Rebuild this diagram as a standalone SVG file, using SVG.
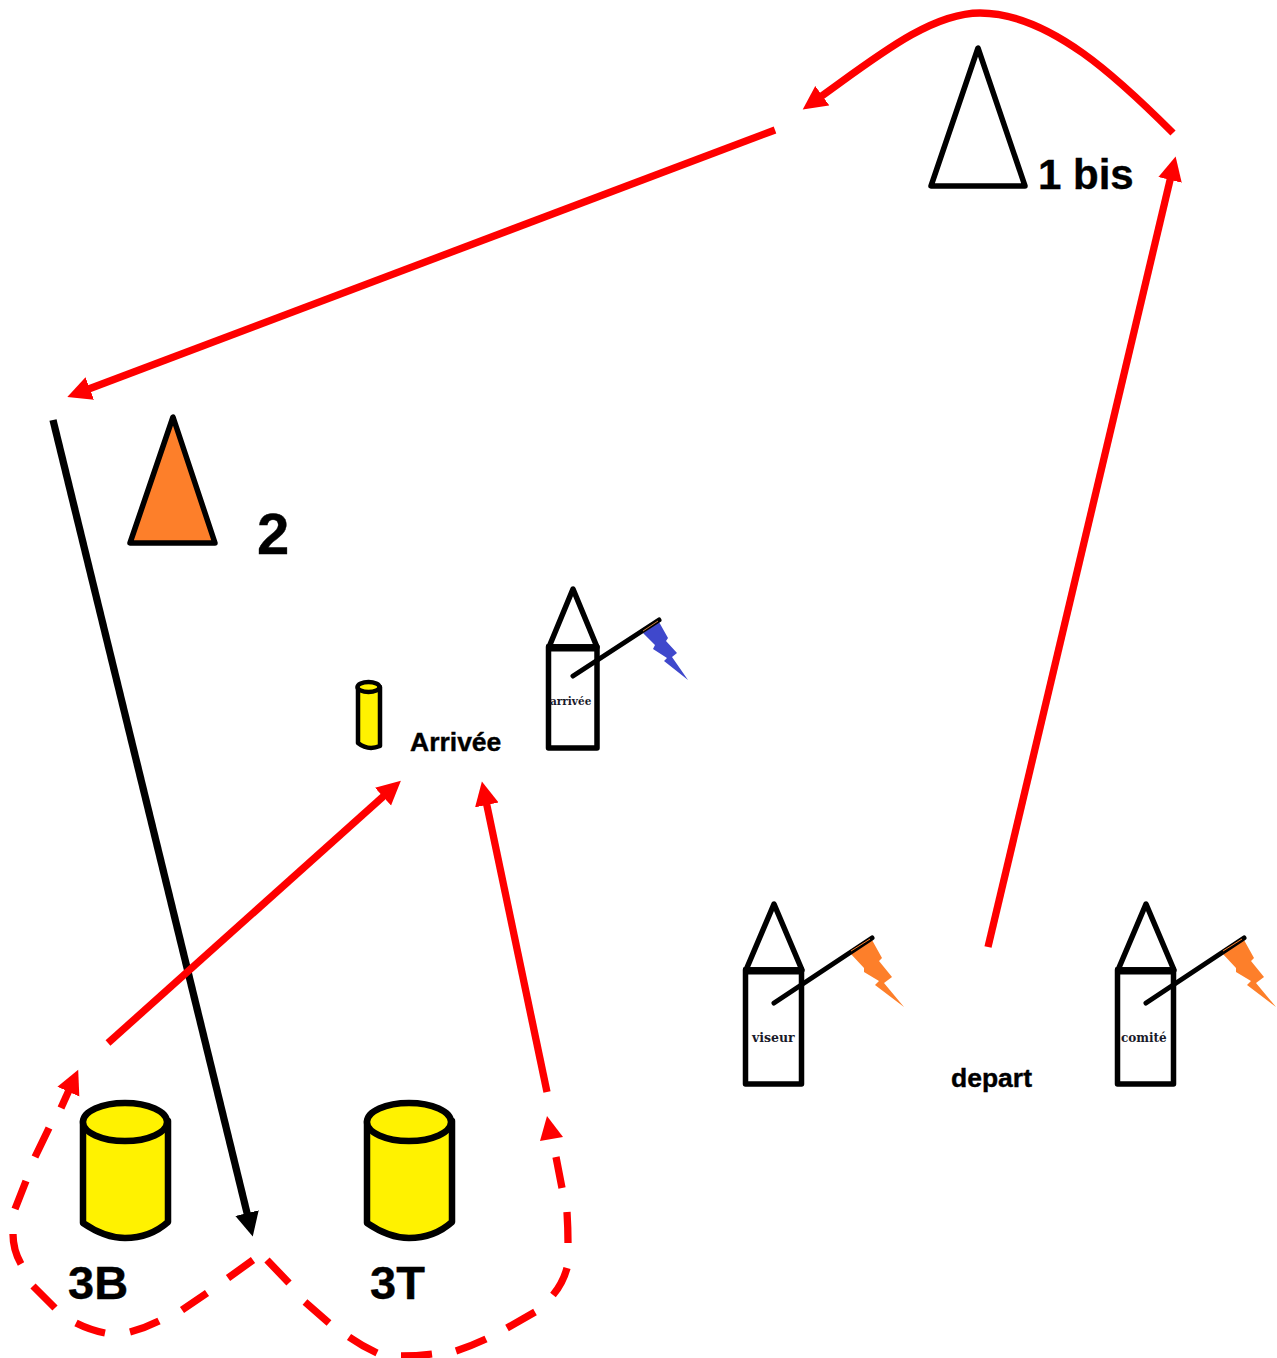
<svg xmlns="http://www.w3.org/2000/svg" width="1277" height="1358" viewBox="0 0 1277 1358">
<style>
.bg{fill:#fff}
.red{fill:none;stroke:#fe0000;stroke-width:7.300}
.blk{fill:none;stroke:#000;stroke-width:7.300}
.head{fill:#fe0000}
.cone{stroke:#000;stroke-width:5.500;stroke-linejoin:round}
.tw{fill:#fff;stroke:#000;stroke-width:5.500;stroke-linejoin:round}
.top{fill:none;stroke:#000;stroke-width:7}
.pole{fill:none;stroke:#000;stroke-width:5;stroke-linecap:round}
.cyl{fill:#fff200;stroke:#000;stroke-width:6.500;stroke-linejoin:round}
.cyls{fill:#fff200;stroke:#000;stroke-width:4.500;stroke-linejoin:round}
.big{font-family:"Liberation Sans",Arial,sans-serif;font-weight:700;fill:#000;stroke:#000;stroke-width:.4}
.small{font-family:"DejaVu Serif",serif;font-weight:700;fill:#1a1a2a}
.hl{fill:none;stroke-width:1}
</style>
<defs>
<marker id="ar" markerUnits="userSpaceOnUse" markerWidth="26" markerHeight="26" refX="4" refY="13" orient="auto" viewBox="0 0 26 26"><path d="M0,1 L24,13 L0,25 Z" fill="#fe0000"/></marker>
<marker id="ab" markerUnits="userSpaceOnUse" markerWidth="26" markerHeight="26" refX="4" refY="13" orient="auto" viewBox="0 0 26 26"><path d="M0,1 L24,13 L0,25 Z" fill="#000"/></marker>
</defs>
<rect class="bg" width="1277" height="1358"/>
<g id="connectors">
<path class="red" marker-end="url(#ar)" d="M1173,133 C1120,80 1050,13 980,13 C930,13 875,58 819,98"/>
<path class="red" marker-end="url(#ar)" d="M775,130 L86,390"/>
<path class="blk" marker-end="url(#ab)" d="M53,420 L248,1217"/>
<path class="red" marker-end="url(#ar)" d="M108,1043 L386,794"/>
<path class="red" marker-end="url(#ar)" d="M547,1092 L486,801"/>
<path class="red" marker-end="url(#ar)" d="M988,947 L1171,176"/>
<path class="red" d="M253,1260 L228,1278 M207,1293 L182,1310 M159,1321 Q145,1328 130,1332 M105,1333 Q90,1330 76,1323 M55,1308 L33,1286 M21,1264 Q13,1250 13,1234 M15,1209 L26,1181 M35,1157 L49,1128"/>
<path class="red" marker-end="url(#ar)" d="M61,1108 L70,1088"/>
<path class="red" d="M267,1260 L289,1283 M305,1302 L329,1323 M349,1337 Q362,1346 377,1353 M401,1356 Q416,1356 432,1354 M456,1351 Q471,1346 486,1339 M507,1328 L535,1312 M553,1295 Q563,1283 567,1268 M568,1243 Q568,1228 567,1212 M562,1188 L556,1157"/>
<polygon class="head" points="547,1116 540,1141 563,1137"/>
</g>
<g id="cone-1bis">
<polygon class="cone" fill="#fff" points="978,48 931,186 1025,186"/>
<text class="big" x="1038" y="189" font-size="42">1 bis</text>
</g>
<g id="cone-2">
<polygon class="cone" fill="#fd7f2a" points="173,417 130,543 215,543"/>
<text class="big" x="257" y="554" font-size="58">2</text>
</g>
<g id="buoy-arrivee">
<path class="cyls" d="M358,687 V743 Q368,751 380,746 V687 Z"/>
<ellipse class="cyls" cx="368.500" cy="687" rx="11" ry="5"/>
<text class="big" x="410" y="751" font-size="26.500">Arrivée</text>
</g>
<g id="tower-arrivee">
<polygon class="tw" points="573,589 549,647 597,647"/>
<rect class="tw" x="548.500" y="647" width="48.500" height="101"/>
<path class="top" d="M546,648 H599"/>
<polygon fill="#3f48cc" points="643,633 659,622 668,638 666,641 677,653 672,657 688,680 664,661 667,658 653,649 655,645"/>
<path class="pole" d="M573,676 L659,620"/>
<path class="hl" stroke="#d08040" d="M643,631 L658,621"/>
<text class="small" x="550" y="705" font-size="10.500">arrivée</text>
</g>
<g id="tower-viseur">
<polygon class="tw" points="774,904 746,970 802,970"/>
<rect class="tw" x="745.500" y="970" width="56" height="114"/>
<path class="top" d="M743,971 H804"/>
<polygon fill="#fd7f2a" points="850,953 872,940 882,958 879,961 892,977 884,983 904,1007 875,985 879,981 864,972 864,968"/>
<path class="pole" d="M774,1003 L872,938"/>
<path class="hl" stroke="#fd7f2a" d="M851,951 L870,939"/>
<text class="small" x="752" y="1042" font-size="12.500">viseur</text>
</g>
<g id="tower-comite">
<polygon class="tw" points="1146,904 1118,970 1174,970"/>
<rect class="tw" x="1117.500" y="970" width="56" height="114"/>
<path class="top" d="M1115,971 H1176"/>
<polygon fill="#fd7f2a" points="1222,953 1244,940 1254,958 1251,961 1264,977 1256,983 1276,1007 1247,985 1251,981 1236,972 1236,968"/>
<path class="pole" d="M1146,1003 L1244,938"/>
<path class="hl" stroke="#fd7f2a" d="M1223,951 L1242,939"/>
<text class="small" x="1121" y="1042" font-size="12">comité</text>
</g>
<g id="depart">
<text class="big" x="951" y="1087" font-size="26.500">depart</text>
</g>
<g id="buoy-3B">
<path class="cyl" d="M83,1121 V1223 Q105,1238 125,1238 Q150,1238 168,1222 V1121 Z"/>
<ellipse class="cyl" cx="125" cy="1122" rx="42" ry="19"/>
<text class="big" x="68" y="1299" font-size="47">3B</text>
</g>
<g id="buoy-3T">
<path class="cyl" d="M367,1121 V1223 Q389,1238 409,1238 Q434,1238 452,1222 V1121 Z"/>
<ellipse class="cyl" cx="409" cy="1122" rx="42" ry="19"/>
<text class="big" x="370" y="1299" font-size="47">3T</text>
</g>
</svg>
